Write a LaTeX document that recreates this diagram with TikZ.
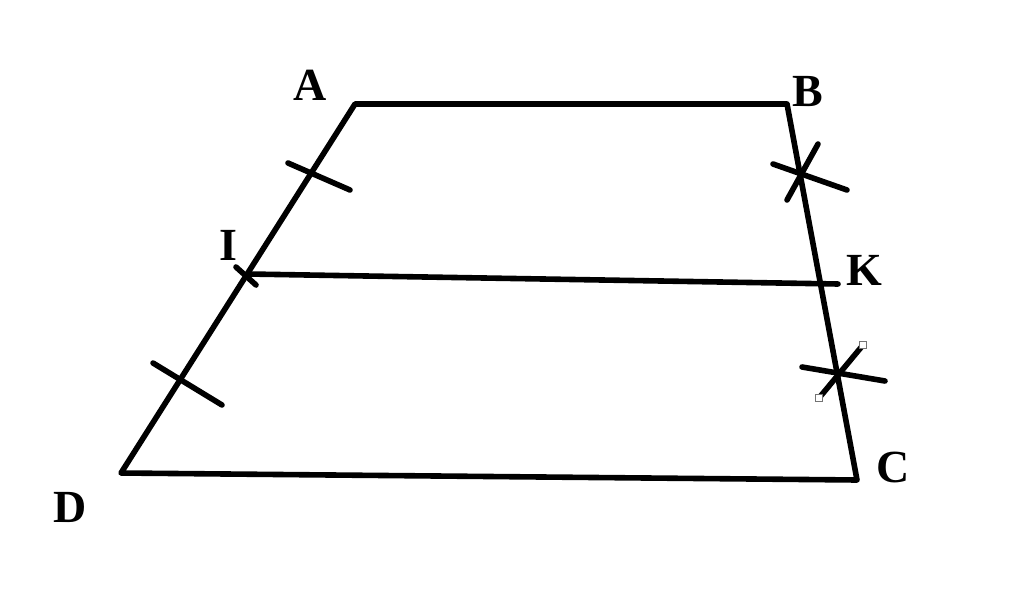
\documentclass[tikz,border=0pt]{standalone}
\usepackage{fontspec}
\setmainfont{Liberation Serif}

\begin{document}
\begin{tikzpicture}[x=1pt,y=1pt,yscale=-1,xscale=1]
		\tikzset{
			side/.style={line width=5.6pt, line cap=round, line join=round},
			tick/.style={line width=5.6pt, line cap=round},
			vlabel/.style={inner sep=0pt, font=\fontsize{46}{46}\selectfont\bfseries},
			handle/.style={draw=black!55, fill=white, line width=0.8pt, minimum size=7pt, inner sep=0pt}
		}
		% Fix the frame of the picture
		\useasboundingbox (0,0) rectangle (1024,604);

		% Corners of the trapezoid
		\coordinate (A) at (355,104);
		\coordinate (B) at (787,104);
		\coordinate (C) at (857,480);
		\coordinate (D) at (121,473);

		% Midpoints of the legs
		\coordinate (I) at (248,274);
		\coordinate (K) at (838,284);

		% The trapezoid and the midline
		\draw[side] (A) -- (B) -- (C) -- (D) -- cycle;
		\draw[side] (I) -- (K);

		% Single ticks on the left leg
		\draw[tick] (288,163) -- (350,190);
		\draw[tick] (153,363) -- (222,405);
		\draw[tick] (236,267) -- (256,285);

		% Crossed ticks on the right leg
		\draw[tick] (773,164) -- (847,190);
		\draw[tick] (818,144) -- (787,200);
		\draw[tick] (802,367) -- (885,381);
		\draw[tick] (863,345) -- (819,398);

		% Selection handles left on the lower mark
		\node[handle] (h1) at (863,345) {};
		\node[handle] (h2) at (819,398) {};

		% Vertex labels
		\node[vlabel] (labA) at (310,85) {A};
		\node[vlabel] (labB) at (808,92) {B};
		\node[vlabel] (labI) at (228,245) {I};
		\node[vlabel] (labK) at (864,270) {K};
		\node[vlabel] (labC) at (893,467) {C};
		\node[vlabel] (labD) at (70,507) {D};
	\end{tikzpicture}
\end{document}
